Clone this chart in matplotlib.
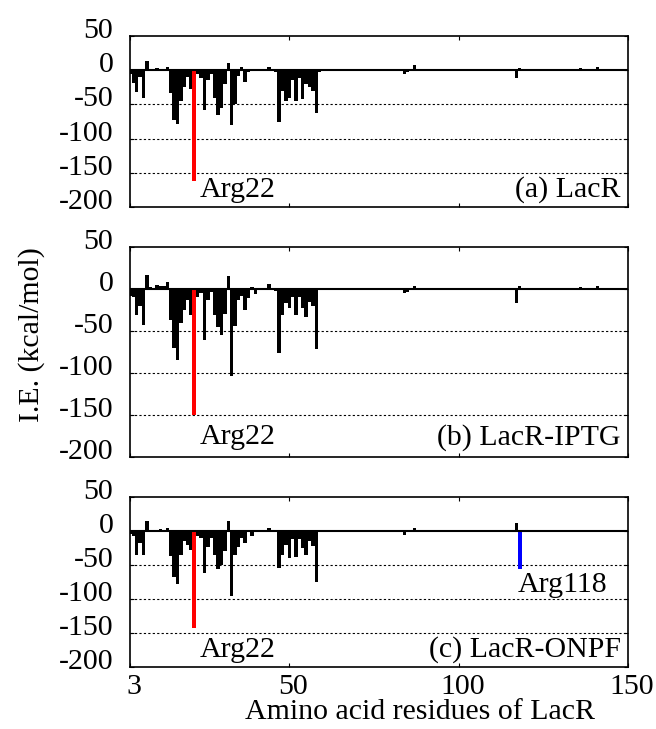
import matplotlib
matplotlib.use("Agg")
import matplotlib.pyplot as plt
import matplotlib.transforms as mtransforms

plt.rcParams["font.family"] = ["Liberation Serif", "DejaVu Serif"]
plt.rcParams["font.size"] = 21.5
plt.rcParams["axes.unicode_minus"] = False  # plain hyphen like gnuplot

# residues 3..60 (the dense region)
res_head = list(range(3, 61))
ie_a_head = [-5, -18, -32, -10, -41, 14, 1, 1, 3, 2, 2, 4, -34, -73, -78, -45, -25, -10, -28, -162,
             -5, -12, -58, -15, -5, -40, -65, -55, -20, 10, -80, -50, -8, 5, -17, -3, 1, -1, 0, 1,
             1, 4, -1, -2, -75, -30, -45, -40, -15, -45, -12, -42, -20, -25, -30, -62, -2, 1]
ie_b_head = [-8, -10, -31, -20, -43, 17, 2, 1, 5, 3, 4, 8, -37, -70, -85, -40, -25, -13, -31, -150,
             -9, -5, -61, -13, -4, -31, -45, -55, -30, 15, -104, -44, -13, -8, -25, -11, 2, -6, 1, 0,
             1, 6, 0, -2, -76, -31, -17, -23, -9, -31, -9, -23, -33, -15, -20, -72, -1, 1]
ie_c_head = [-5, -8, -36, -18, -36, 15, 1, 2, 1, 3, 2, 5, -37, -68, -78, -36, -15, -20, -28, -143,
             -7, -10, -62, -24, -10, -36, -56, -50, -30, 15, -95, -36, -24, -10, -17, 2, -8, -1, 0, -1,
             1, 5, 0, -1, -55, -36, -20, -40, -12, -38, -12, -25, -35, -15, -22, -75, -2, 1]

# residues 61..150, only the non-zero ones
res_a_tail = [70, 84, 85, 87, 91, 100, 117, 118, 125, 136, 141]
ie_a_tail = [1, -6, -3, 8, 2, -1, -11, 3, 1, 3, 4]
res_b_tail = [84, 85, 87, 91, 104, 110, 117, 118, 136, 141]
ie_b_tail = [-5, -3, 4, 1, 1, 1, -17, 3, 2, 3]
res_c_tail = [62, 66, 70, 75, 80, 84, 85, 87, 91, 95, 100, 105, 110, 113, 117, 118,
              121, 125, 130, 133, 136, 139, 141, 145, 148]
ie_c_tail = [-1, 1, -1, 1, -1, -6, -2, 5, 2, -1, -1, 1, -1, 1, 12, -56,
             1, -1, 1, -1, 2, 1, 2, -1, 1]

panels = [
    (res_head + res_a_tail, ie_a_head + ie_a_tail, "(a) LacR", {22: "red"}),
    (res_head + res_b_tail, ie_b_head + ie_b_tail, "(b) LacR-IPTG", {22: "red"}),
    (res_head + res_c_tail, ie_c_head + ie_c_tail, "(c) LacR-ONPF", {22: "red", 118: "blue"}),
]

fig = plt.figure(figsize=(6.56, 7.29), dpi=100)
# axes boxes in pixels (top, bottom) -> panel b is taller than a and c
boxes = [(36, 207), (247, 457), (497, 667)]
W, H = 656.0, 729.0

for i, (res, ie, name, hl) in enumerate(panels):
    top, bot = boxes[i]
    ax = fig.add_axes([130 / W, (H - bot) / H, 498 / W, (bot - top) / H])
    cols = [hl.get(r, "black") for r in res]
    ax.bar(res, ie, width=1.0, color=cols, linewidth=0, zorder=3)
    # highlighted residues drawn again on top, a bit wider
    for r, v, c in zip(res, ie, cols):
        if c != "black":
            ax.bar([r], [v], width=1.2, color=c, linewidth=0, zorder=4)
    ax.axhline(0, color="black", lw=1.5, zorder=5)
    for g in [-50, -100, -150]:
        ax.axhline(g, color="black", lw=0.8, ls=(0, (2, 2)), zorder=1)
    ax.set_xlim(3, 150)
    ax.set_ylim(-200, 50)
    ax.set_yticks([50, 0, -50, -100, -150, -200])
    ax.set_xticks([3, 50, 100, 150])
    ax.tick_params(direction="in", length=3, width=0.8, top=True, right=True, pad=12, axis="y")
    ax.tick_params(direction="in", length=3, width=0.8, top=True, right=True, pad=5, axis="x")
    for sp in ax.spines.values():
        sp.set_linewidth(1.2)
    # gnuplot-like labels sit a bit above their grid line
    off = mtransforms.ScaledTranslation(0, 8 / 100.0, fig.dpi_scale_trans)
    for lab in ax.get_yticklabels():
        lab.set_transform(lab.get_transform() + off)
    if i < 2:
        ax.set_xticklabels([])
    else:
        xoff = mtransforms.ScaledTranslation(4 / 100.0, 0, fig.dpi_scale_trans)
        for lab in ax.get_xticklabels():
            lab.set_transform(lab.get_transform() + xoff)

    ax.text(23.7, -185, "Arg22", ha="left", va="baseline")
    ax.text(0.985, (-185 + 200) / 250.0, name, ha="right", va="baseline", transform=ax.transAxes)
    if 118 in hl:
        ax.text(117.5, -89, "Arg118", ha="left", va="baseline")

fig.text(420 / W, 1 - 712 / H, "Amino acid residues of LacR", ha="center", va="center")
fig.text(32 / W, 1 - 335 / H, "I.E. (kcal/mol)", ha="center", va="center", rotation=90)

plt.savefig("out.png", dpi=100)
